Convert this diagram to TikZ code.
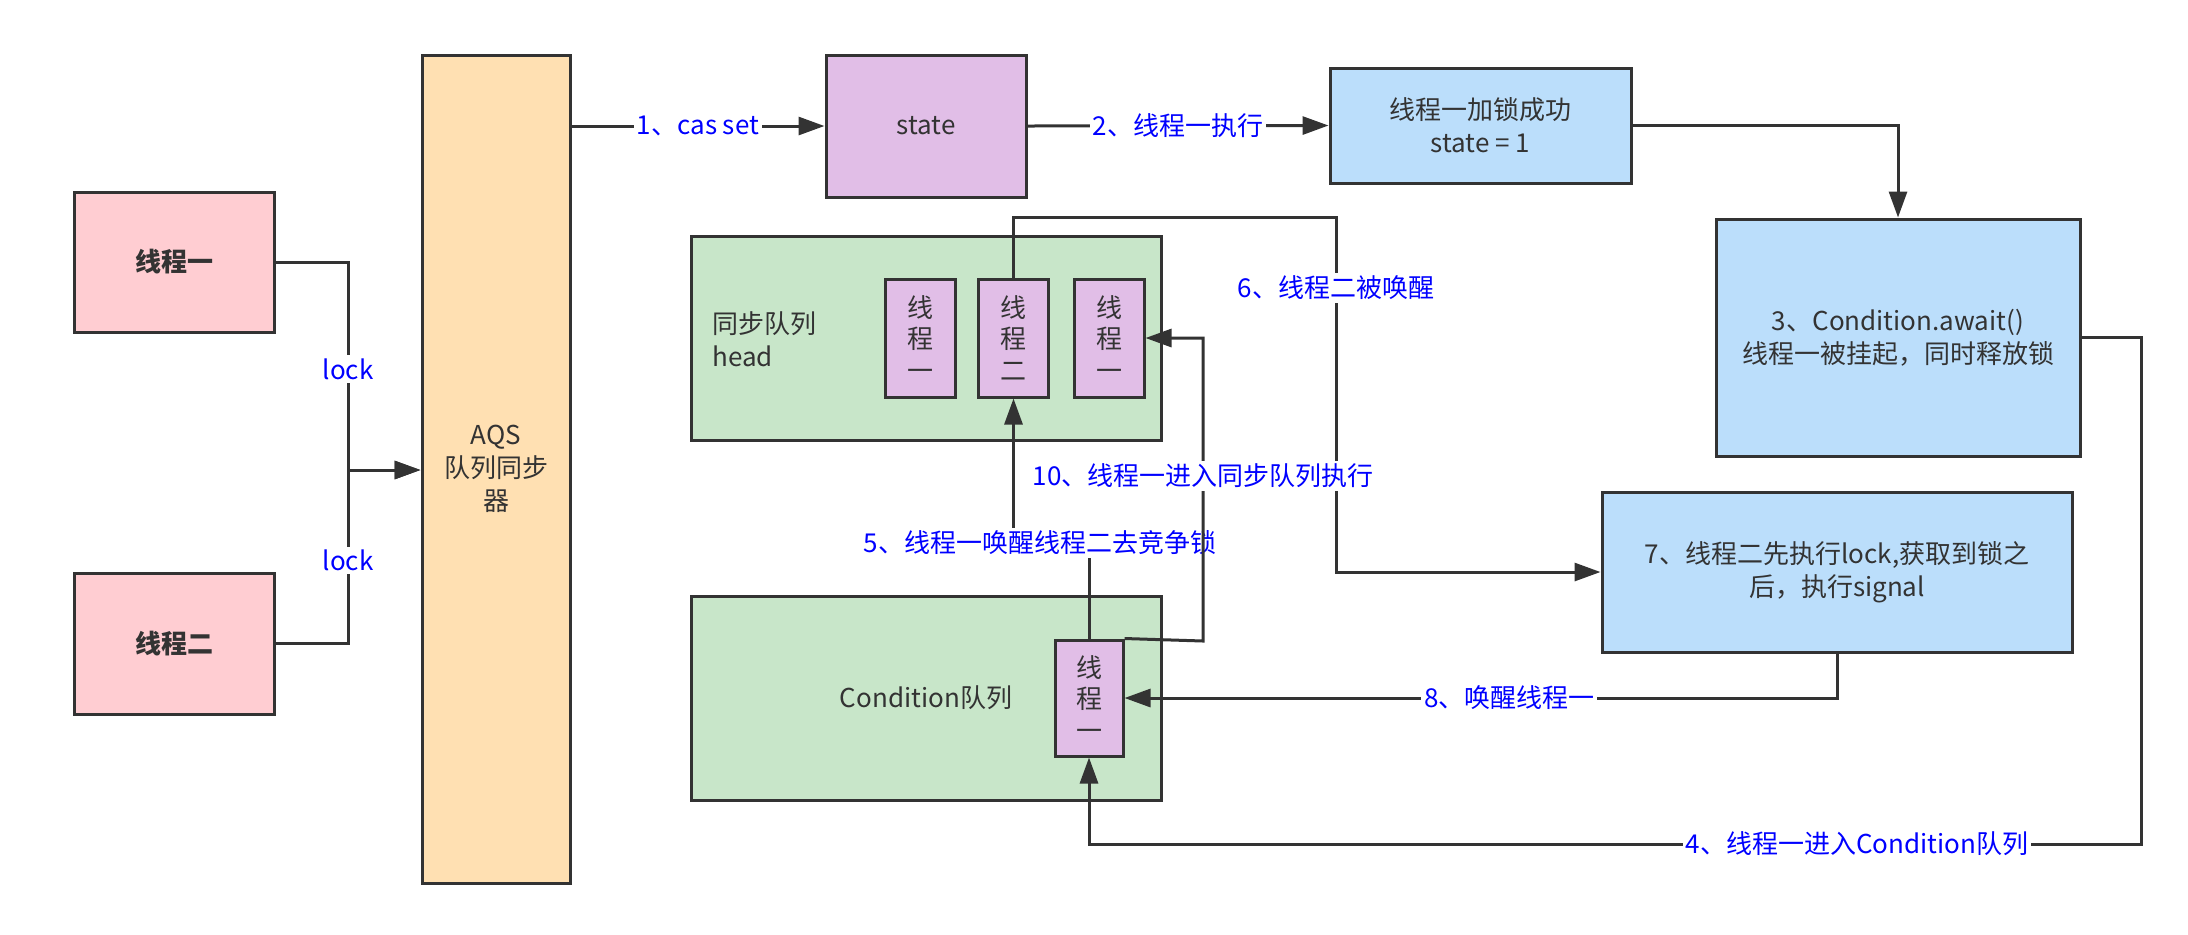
\documentclass[tikz,border=0pt]{standalone}
\usepackage{fontspec}
\setmainfont{Noto Sans CJK SC}
\usetikzlibrary{arrows.meta,calc}
\definecolor{ln}{HTML}{333333}
\definecolor{pinkf}{HTML}{FFCDD2}
\definecolor{orangef}{HTML}{FFE0B2}
\definecolor{purplef}{HTML}{E1BEE7}
\definecolor{bluef}{HTML}{BBDEFB}
\definecolor{greenf}{HTML}{C8E6C9}
\definecolor{lblue}{HTML}{0000FF}
\begin{document}
\begin{tikzpicture}[x=0.5pt,y=-0.5pt,
  box/.style={draw=ln,line width=1.5pt,text=ln,font=\fontsize{13}{16.5}\selectfont,align=center,inner sep=0pt},
  txt/.style={text=ln,font=\fontsize{13}{16.5}\selectfont,inner sep=0pt},
  wh/.style n args={2}{minimum width=#1*0.5pt, minimum height=#2*0.5pt},
  conn/.style={draw=ln,line width=1.5pt},
  arr/.style={conn,-{Triangle[length=13pt,width=9pt]}},
  lbl/.style={fill=white,text=lblue,font=\fontsize{13}{16}\selectfont,inner sep=1.5pt}]
\useasboundingbox (0,0) rectangle (2188,934);

% boxes
\node[box,fill=pinkf,wh={200}{140}] (t1) at (174,262) {\bfseries 线程一};
\node[box,fill=pinkf,wh={200}{141}] (t2) at (174,643.5) {\bfseries 线程二};
\node[box,fill=orangef,wh={148}{828}] (aqs) at (496,469) {AQS\\队列同步\\器};
\node[box,fill=purplef,wh={200}{142}] (state) at (926,126) {state};
\node[box,fill=bluef,wh={301}{115}] (succ) at (1480.5,125.5) {线程一加锁成功\\state = 1};
\node[box,fill=bluef,wh={364}{237}] (await) at (1898,337.5) {3、Condition.await()\\线程一被挂起，同时释放锁};
\node[box,fill=bluef,wh={470}{160}] (sig) at (1837,572) {7、线程二先执行lock,获取到锁之\\后，执行signal};
\node[box,fill=greenf,wh={470}{204}] (syncq) at (926,338) {};
\node[txt,anchor=west,align=left] (synct) at (712,339) {同步队列\\head};
\node[box,fill=greenf,wh={470}{204}] (condq) at (926,698) {};
\node[txt] (condt) at (926,698) {Condition队列};
\node[box,fill=purplef,wh={70}{118},font=\fontsize{13}{15.8}\selectfont] (qa) at (920,338) {线\\程\\一};
\node[box,fill=purplef,wh={70}{118},font=\fontsize{13}{15.8}\selectfont] (qb) at (1013.5,338) {线\\程\\二};
\node[box,fill=purplef,wh={70}{118},font=\fontsize{13}{15.8}\selectfont] (qc) at (1109,338) {线\\程\\一};
\node[box,fill=purplef,wh={68}{116},font=\fontsize{13}{15.8}\selectfont] (qd) at (1089,698) {线\\程\\一};

% lock lines
\coordinate (j) at (348,470);
\draw[arr] (t1.east) -| (j) -- (j -| aqs.west);
\draw[arr] (t2.east) -| (j) -- (j -| aqs.west);
\node[lbl] (lk1) at (348,369) {lock};
\node[lbl] (lk2) at (348,560) {lock};

% 1, 2, 3
\draw[arr] (state.west -| aqs.east) -- node[lbl]{1、cas set} (state.west);
\draw[arr] (state.east) -- node[lbl]{2、线程一执行} (succ.west);
\draw[arr] (succ.east) -| (await.north);

% 4
\coordinate (c4a) at (2141,337.5);
\coordinate (c4b) at (2141,844);
\coordinate (c4c) at (1089,844);
\draw[arr] (await.east) -- (c4a) -- (c4b) -- node[lbl,pos=0.27]{4、线程一进入Condition队列} (c4c) -- (qd.south);

% 5
\coordinate (c5a) at (1089,543);
\coordinate (c5b) at (1013.5,543);
\draw[arr] (qd.north) -- (c5a) -- (c5b) -- (qb.south);
\node[lbl] (l5) at (1040,543) {5、线程一唤醒线程二去竞争锁};

% 6
\coordinate (c6a) at (1013.5,217);
\coordinate (c6b) at (1336,217);
\coordinate (c6c) at (1336,572);
\draw[arr] (qb.north) -- (c6a) -- (c6b) -- node[lbl,pos=0.2]{6、线程二被唤醒} (c6c) -- (sig.west);

% 8
\draw[arr] (sig.south) |- node[lbl,pos=0.73]{8、唤醒线程一} (qd.east);

% 10
\coordinate (c10a) at (1203,641);
\coordinate (c10b) at (1203,338);
\draw[arr] (qd.north east) -- (c10a) -- node[lbl,pos=0.546]{10、线程一进入同步队列执行} (c10b) -- (qc.east);
\end{tikzpicture}
\end{document}
